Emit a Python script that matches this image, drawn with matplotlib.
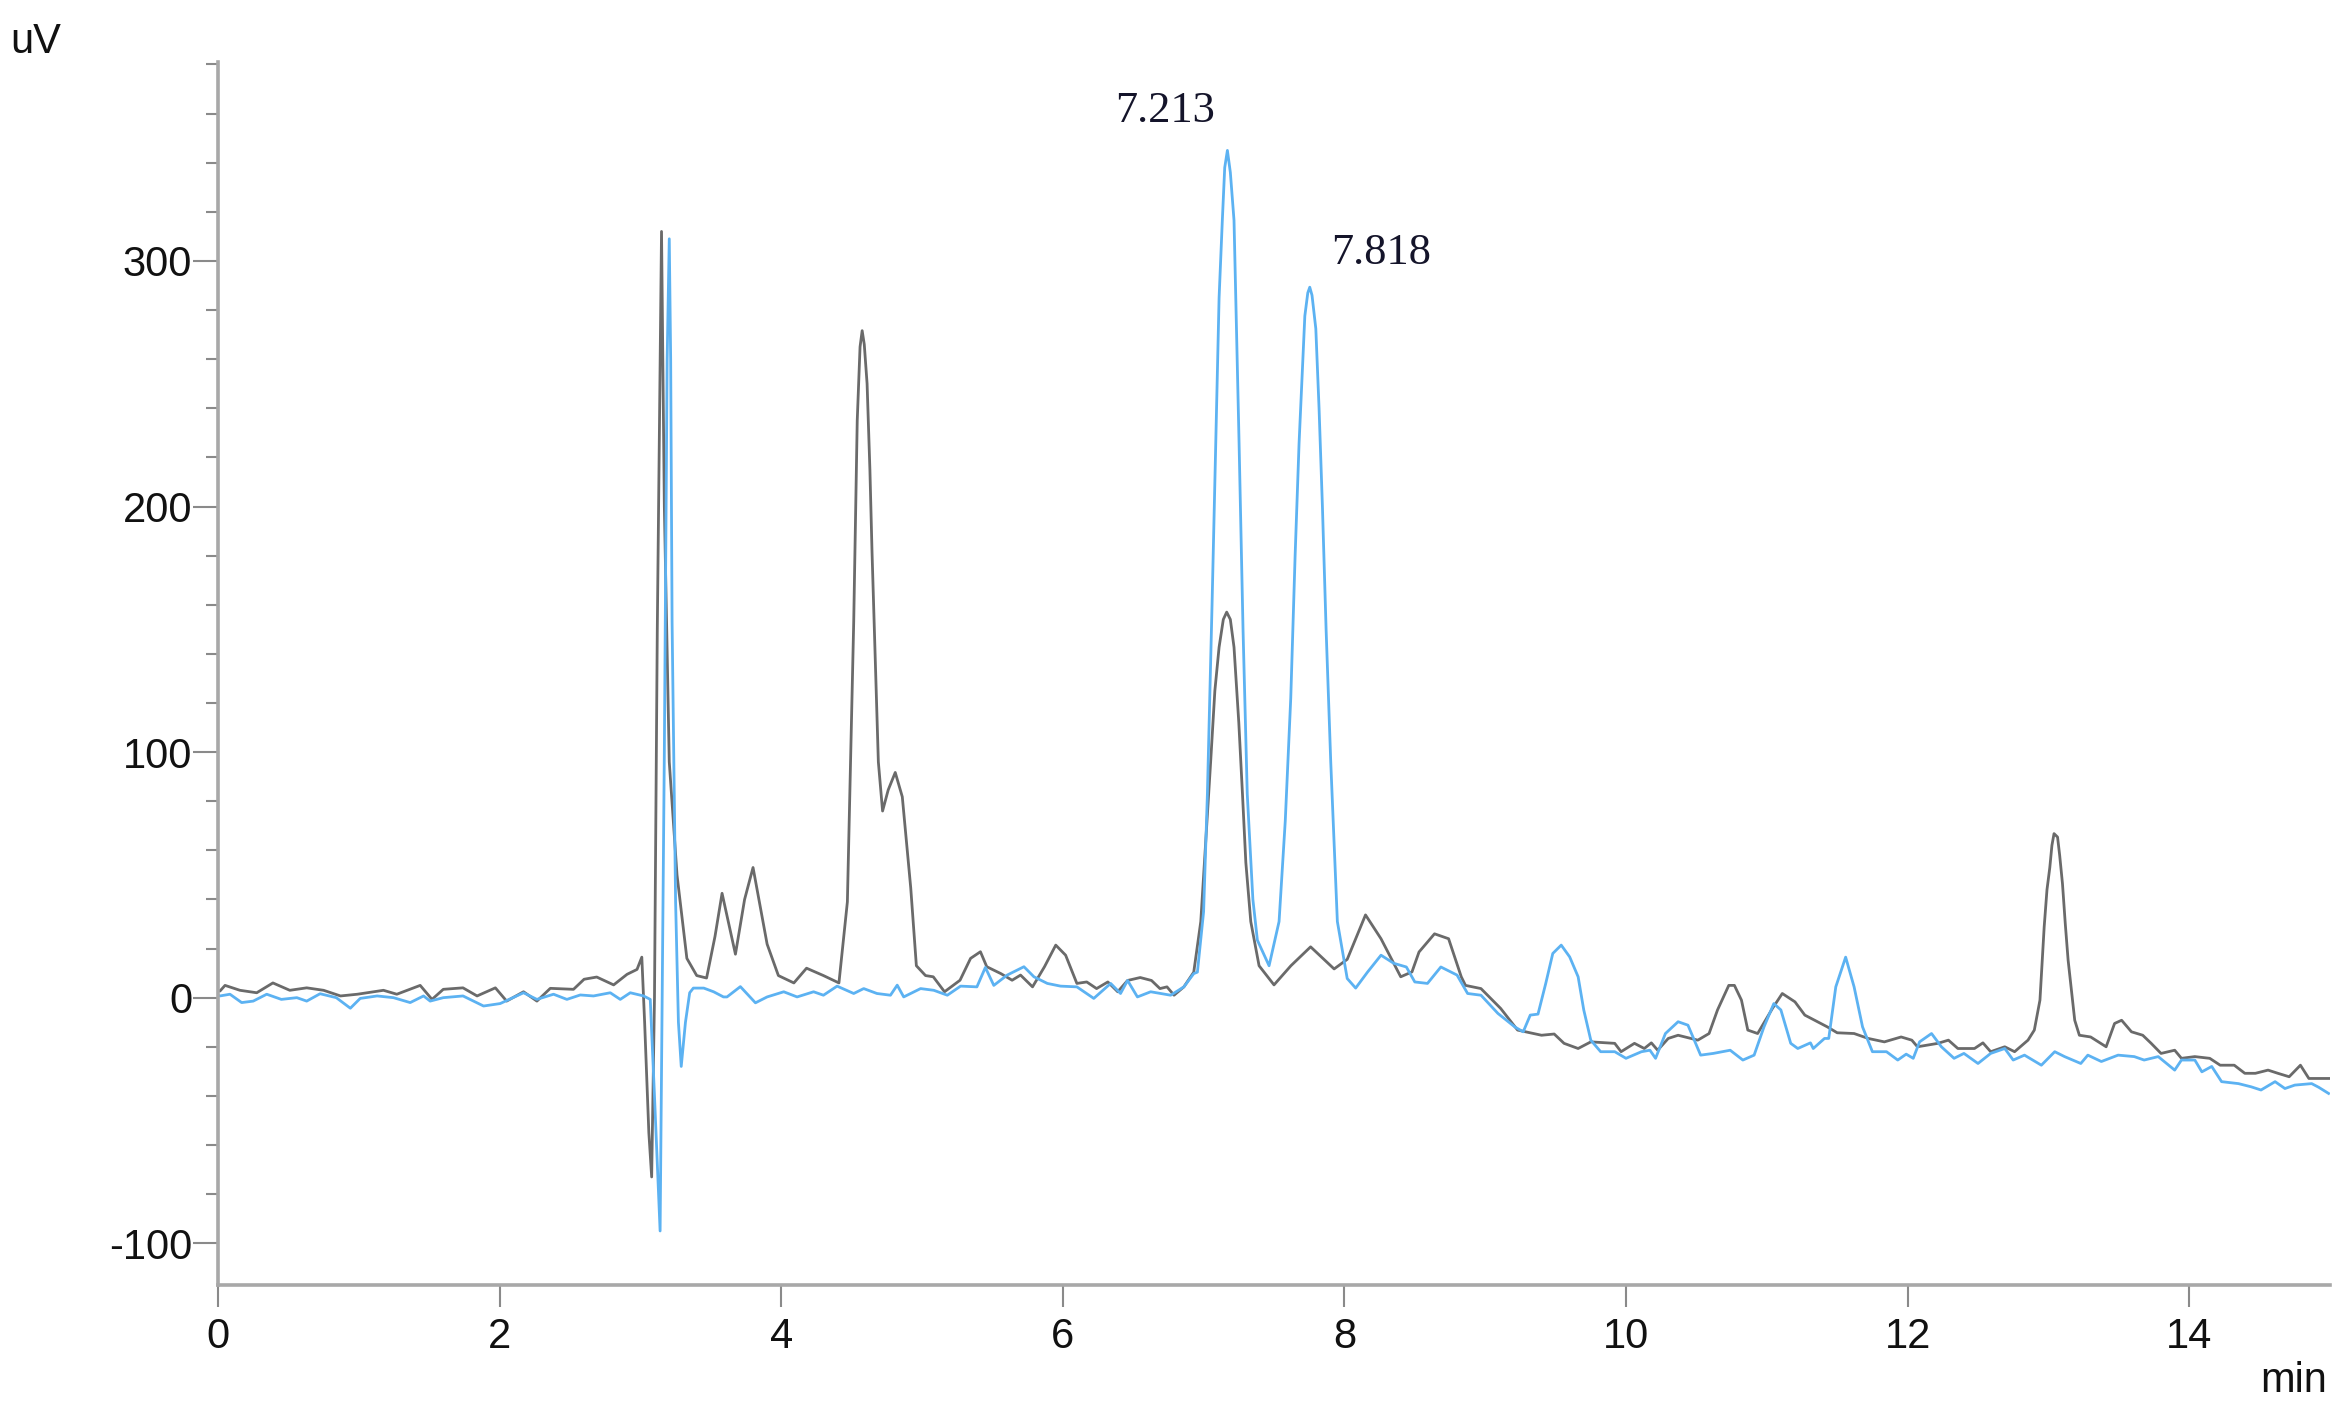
import matplotlib
matplotlib.use("Agg")
import matplotlib.pyplot as plt
from matplotlib.ticker import MultipleLocator, FixedLocator

plt.rcParams['font.family'] = ['Liberation Sans', 'DejaVu Sans']
plt.rcParams['axes.unicode_minus'] = False

# ---- data ----
black_t = [0.0, 0.014, 0.05, 0.156, 0.275, 0.39, 0.51, 0.63, 0.75, 0.87, 0.99, 1.175, 1.27, 1.436,
           1.52, 1.60, 1.74, 1.84, 1.97, 2.05, 2.17, 2.265, 2.36, 2.525, 2.60, 2.69, 2.81, 2.905,
           2.976, 3.01, 3.03, 3.06, 3.08, 3.10, 3.12, 3.15, 3.17, 3.205, 3.26, 3.33, 3.40, 3.47,
           3.53, 3.58, 3.675, 3.74, 3.80, 3.90, 3.98, 4.09, 4.18, 4.30, 4.41, 4.47, 4.515, 4.54, 4.56,
           4.575, 4.59, 4.61, 4.63, 4.645, 4.69, 4.72, 4.76, 4.81, 4.86, 4.92, 4.96, 5.025, 5.08, 5.16, 5.27,
           5.345, 5.415, 5.46, 5.56, 5.64, 5.70, 5.785, 5.87, 5.95, 6.02, 6.10, 6.17, 6.24, 6.32,
           6.39, 6.46, 6.55, 6.63, 6.69, 6.74, 6.79, 6.86, 6.93, 6.98, 7.05, 7.08, 7.11, 7.14, 7.164,
           7.19, 7.216, 7.25,
           7.276, 7.30, 7.335, 7.394, 7.50, 7.62, 7.76, 7.927, 8.02, 8.15, 8.26, 8.40, 8.48, 8.53, 8.64,
           8.74, 8.83, 8.86, 8.97, 9.11, 9.23, 9.40, 9.49, 9.56, 9.66, 9.75, 9.92, 9.965, 10.06,
           10.13, 10.18, 10.225, 10.30, 10.37, 10.51, 10.59, 10.65, 10.73, 10.77, 10.82, 10.865,
           10.935, 11.04, 11.11, 11.20, 11.27, 11.36, 11.43, 11.50, 11.62, 11.72, 11.835, 11.954,
           12.03, 12.07, 12.215, 12.29, 12.357, 12.475, 12.535, 12.59, 12.69, 12.76, 12.855, 12.90,
           12.94, 12.97, 12.99, 13.01, 13.025, 13.04, 13.065, 13.08, 13.10, 13.12, 13.14, 13.187,
           13.22, 13.30, 13.41, 13.47,
           13.52, 13.59, 13.67, 13.73, 13.80, 13.897, 13.945, 14.04, 14.146, 14.22, 14.32, 14.395,
           14.47, 14.56, 14.63, 14.71, 14.79, 14.85, 14.93, 15.0]
black_v = [3, 2.7, 5, 3, 2, 6, 3, 4, 3, 0.7, 1.4, 3, 1.4, 5,
           -0.7, 3.4, 4, 0.7, 4, -1.4, 2.4, -1.4, 3.8, 3.4, 7.5, 8.4, 5.2, 9.5,
           11.5, 16.5, -10, -55, -73, 0, 150, 312, 200, 96, 50, 16, 9, 8,
           25, 42.5, 17.7, 40, 53, 21.8, 9, 6, 12, 9, 6, 39, 153, 235, 265,
           271.6, 266, 250, 215, 181.6, 96, 76, 84.6, 91.7, 81.8, 44.7, 13, 9, 8.5, 2.4, 7.1,
           16, 18.7, 12.6, 9.8, 7.1, 9.2, 4.4, 12.6, 21.4, 17.3, 5.8, 6.4, 3.7, 6.4,
           2.4, 7, 8.2, 7, 3.7, 4.4, 1, 4.4, 10.4, 31, 96, 125, 142.7, 154, 157,
           154, 142.7, 112,
           83, 55, 31, 13, 5.2, 13, 20.7, 11.7, 15.6, 33.7, 24, 8.5, 10.5, 18.6, 26,
           24, 8.5, 5, 3.7, -4.4, -13.2, -15.3, -14.8, -18.6, -20.7, -18, -18.6, -22, -18.6,
           -20.7, -18.4, -21.4, -16.6, -15.3, -17.3, -14.6, -5, 5, 5, -1, -13.2,
           -14.6, -4.4, 1.7, -1.7, -7.1, -9.8, -11.9, -14.3, -14.6, -16.6, -18, -16,
           -17.3, -20, -18.6, -17.3, -20.7, -20.7, -18.4, -22, -20, -22, -17.3, -13.2,
           -1, 28.8, 44, 53, 62, 66.8, 65.4, 58, 46.4, 30, 15.3, -9.2,
           -15.3, -16, -20, -10.5,
           -9.2, -13.9, -15.3, -18.6, -22.7, -21.4, -24.7, -24, -24.7, -27.5, -27.5, -30.8,
           -30.8, -29.5, -30.8, -32.2, -27.5, -32.9, -32.9, -32.9]

blue_t = [0.0, 0.014, 0.085, 0.168, 0.25, 0.346, 0.45, 0.56, 0.63, 0.725, 0.84, 0.94, 1.01, 1.13,
          1.246, 1.365, 1.46, 1.507, 1.60, 1.74, 1.886, 2.004, 2.17, 2.265, 2.383, 2.478, 2.573,
          2.667, 2.786, 2.857, 2.928, 3.023, 3.07, 3.10, 3.14, 3.17, 3.19, 3.205, 3.215, 3.225,
          3.25, 3.27, 3.29, 3.32, 3.35, 3.376, 3.45, 3.52, 3.59, 3.615, 3.71, 3.817, 3.90, 4.018,
          4.113, 4.23, 4.30, 4.397, 4.515, 4.586, 4.68, 4.776, 4.824, 4.87, 4.99, 5.084, 5.18,
          5.274, 5.39, 5.45, 5.51, 5.605, 5.724, 5.795, 5.89, 5.984, 6.10, 6.22, 6.34, 6.41, 6.46,
          6.53, 6.624, 6.766, 6.86, 6.93, 6.956, 7.0, 7.027, 7.06, 7.086, 7.11, 7.133, 7.15, 7.169,
          7.19, 7.216, 7.252, 7.28, 7.31, 7.35,
          7.382, 7.465, 7.536, 7.58, 7.619, 7.65, 7.678, 7.719, 7.74, 7.754, 7.77, 7.797, 7.82,
          7.844, 7.87, 7.903, 7.95, 8.02, 8.08,
          8.164, 8.26, 8.35, 8.44, 8.50, 8.59, 8.685, 8.80, 8.875, 8.97, 9.09, 9.21, 9.27, 9.32,
          9.375, 9.43, 9.48, 9.54, 9.60, 9.66, 9.70, 9.75, 9.82, 9.92, 10.0, 10.11, 10.17, 10.21,
          10.28, 10.37, 10.44, 10.53, 10.62, 10.74, 10.83, 10.91, 10.98, 11.05, 11.10, 11.17,
          11.22, 11.31, 11.33, 11.41, 11.44, 11.49, 11.56, 11.62, 11.68, 11.75, 11.85, 11.93,
          11.99, 12.04, 12.085, 12.17, 12.24, 12.33, 12.40, 12.50, 12.59, 12.69, 12.75, 12.83,
          12.95, 13.045, 13.115, 13.23, 13.28, 13.376, 13.495, 13.61, 13.68, 13.78, 13.897,
          13.945, 14.04, 14.09, 14.16, 14.23, 14.35, 14.44, 14.51, 14.61, 14.68, 14.75, 14.87,
          14.92, 14.99]
blue_v = [1, 0.7, 1.4, -2, -1.4, 1.4, -0.7, 0, -1.4, 1.6, 0, -4.3, -0.3, 0.7,
          0, -2, 0.7, -1.4, 0, 0.7, -3.4, -2.4, 2, -0.7, 1.4, -0.7, 1.1,
          0.7, 2, -0.7, 2, 0.7, -0.7, -40, -95, 100, 260, 309, 260, 153,
          39, -10, -28, -10, 2, 3.9, 3.9, 2.4, 0.3, 0.3, 4.5, -2.1, 0.3, 2.4,
          0.3, 2.4, 1, 4.7, 1.7, 3.7, 1.7, 1, 5.1, 0.3, 3.7, 3, 1,
          4.7, 4.4, 12.3, 5, 9.2, 12.6, 8.5, 5.8, 4.7, 4.4, -0.3, 5.8, 1.7, 7,
          0.3, 2.4, 1, 4.4, 9.8, 10.4, 35, 83, 160, 225.7, 285, 316.5, 338, 345,
          336, 316.5, 225.7, 150, 83, 40,
          23.4, 13, 31, 72, 122, 180, 225.7, 277.6, 287, 289.3, 286, 272.4, 240,
          199.8, 150, 96, 31, 7.8, 3.9,
          10.4, 17.3, 14, 12.5, 6.4, 5.8, 12.5, 9.2, 1.7, 1, -6.4, -11.9, -13.9, -7.1,
          -6.7, 5.8, 18, 21.4, 16.6, 8.5, -5, -17.3, -22, -22, -24.7, -22, -21.4, -24.7,
          -14.6, -9.8, -11.2, -23.4, -22.7, -21.4, -25.4, -23.4, -11.9, -2.4, -5, -18.6,
          -20.7, -18.4, -20.7, -16.6, -16.6, 4.4, 16.5, 4.4, -11.9, -22, -22, -25.4,
          -23, -24.7, -18, -14.6, -20, -24.7, -22.7, -26.8, -22.7, -20.7, -25.4, -23.4,
          -27.5, -22, -24, -26.8, -23.4, -26, -23.4, -24, -25.4, -24, -29.5,
          -25.4, -25.4, -30.2, -28, -34.2, -35, -36.3, -37.6, -34.2, -37, -35.6, -35,
          -36.5, -39]

x_ticks = [0, 2, 4, 6, 8, 10, 12, 14]
y_ticks = [-100, 0, 100, 200, 300]
peak_labels = ['7.213', '7.818']
peak_label_pos = [(6.375, 356.6), (7.903, 298.8)]

W, H = 2351, 1419
fig = plt.figure(figsize=(W / 100, H / 100), dpi=100)
ax = fig.add_axes([218 / W, (H - 1285) / H, (2330 - 218) / W, (1285 - 62) / H])

ax.plot(black_t, black_v, color='#6a6a6a', lw=2.0, solid_joinstyle='round')
ax.plot(blue_t, blue_v, color='#5cb2f2', lw=2.0, solid_joinstyle='round')

ax.set_xlim(0, 15)
ax.set_ylim(-117, 381)

for s in ['top', 'right']:
    ax.spines[s].set_visible(False)
for s in ['left', 'bottom']:
    ax.spines[s].set_color('#a8a8a8')
    ax.spines[s].set_linewidth(2.6)

ax.xaxis.set_major_locator(FixedLocator(x_ticks))
ax.yaxis.set_major_locator(FixedLocator(y_ticks))
ax.yaxis.set_minor_locator(MultipleLocator(20))
ax.set_xticklabels([str(v) for v in x_ticks])
ax.set_yticklabels([str(v) for v in y_ticks])

ax.tick_params(axis='y', which='major', length=18, width=1.5, color='#8a8a8a',
               direction='out', pad=0.5, labelsize=30, labelcolor='#111111')
ax.tick_params(axis='y', which='minor', length=8.5, width=1.5, color='#8a8a8a', direction='out')
ax.tick_params(axis='x', which='major', length=16, width=1.5, color='#8a8a8a',
               direction='out', pad=7, labelsize=30, labelcolor='#111111')

for lab, (px, py) in zip(peak_labels, peak_label_pos):
    ax.text(px, py, lab, family=['Liberation Serif', 'DejaVu Serif'], fontsize=32,
            ha='left', va='baseline', color='#14142a', clip_on=False)

fig.text(10 / W, 1 - 53 / H, 'uV', fontsize=30, ha='left', va='baseline', color='#111111')
fig.text(2327 / W, 1 - 1392 / H, 'min', fontsize=30, ha='right', va='baseline', color='#111111')

fig.savefig('out.png', dpi=100, facecolor='white')
